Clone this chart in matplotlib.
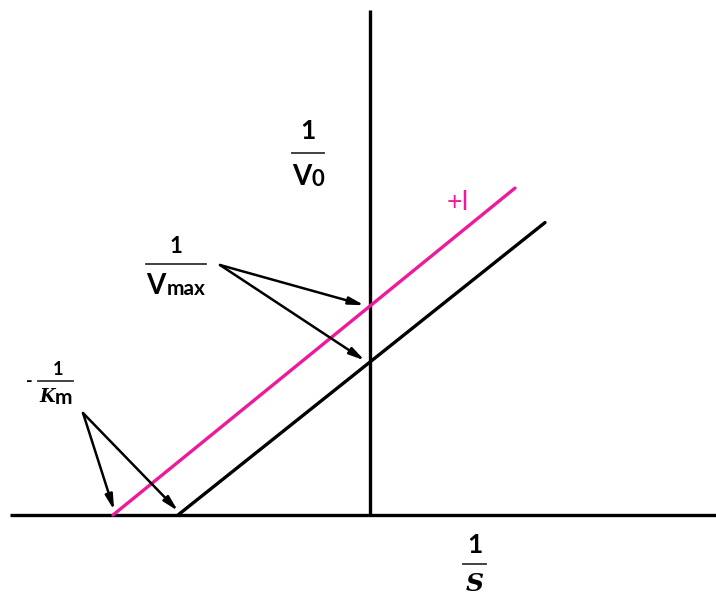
import matplotlib.pyplot as plt

# Lineweaver-Burk sketch: intercepts of the two lines (plot units)
lines = ["no inhibitor", "+I"]
x_intercepts = [-1.92, -2.57]      # -1/Km
y_intercepts = [1.53, 2.09]        # 1/Vmax
x_ends = [1.75, 1.45]              # where each line stops on the right
colors = ["black", "#ee1a9c"]

# axis extents
x_axis = [-3.60, 3.46]
y_axis = [0.0, 5.05]

fig = plt.figure(figsize=(7.16, 5.96), dpi=100)
ax = fig.add_axes([0, 0, 1, 1])
ax.set_xlim(-3.70, 3.46)
ax.set_ylim(-0.81, 5.15)
ax.axis("off")

# axes of the plot
ax.plot(x_axis, [0, 0], color="black", lw=2.4, solid_capstyle="butt")
ax.plot([0, 0], y_axis, color="black", lw=2.4, solid_capstyle="butt")

# the two lines
for x0, b, xe, c in zip(x_intercepts, y_intercepts, x_ends, colors):
    slope = b / -x0
    ax.plot([x0, xe], [0, b + slope * xe], color=c, lw=2.4, solid_capstyle="round")

bold = dict(family="Lato", fontweight="bold", color="black")


def frac_bar(x0, x1, y):
    ax.plot([x0, x1], [y, y], color="#333333", lw=1.3)


# 1/V0
ax.text(-0.62, 3.76, "1", fontsize=19, ha="center", va="baseline", **bold)
frac_bar(-0.78, -0.46, 3.62)
ax.text(-0.78, 3.30, "V", fontsize=20, ha="left", va="baseline", **bold)
ax.text(-0.59, 3.29, "0", fontsize=16, ha="left", va="baseline", **bold)

# 1/Vmax
ax.text(-1.94, 2.62, "1", fontsize=16, ha="center", va="baseline", **bold)
frac_bar(-2.24, -1.64, 2.51)
ax.text(-2.24, 2.21, "V", fontsize=20, ha="left", va="baseline", **bold)
ax.text(-2.03, 2.20, "max", fontsize=15, ha="left", va="baseline", **bold)

# -1/Km
ax.text(-3.41, 1.33, "-", fontsize=13, ha="center", va="center", **bold)
ax.text(-3.12, 1.40, "1", fontsize=13, ha="center", va="baseline", **bold)
frac_bar(-3.32, -2.97, 1.34)
ax.text(-3.31, 1.13, "K", fontsize=13, ha="left", va="baseline",
        family="DejaVu Serif", fontweight="bold", fontstyle="italic")
ax.text(-3.15, 1.11, "m", fontsize=15, ha="left", va="baseline", **bold)

# 1/S
ax.text(1.05, -0.38, "1", fontsize=19, ha="center", va="baseline", **bold)
frac_bar(0.93, 1.16, -0.49)
ax.text(1.05, -0.76, "S", fontsize=18, ha="center", va="baseline",
        family="DejaVu Serif", fontweight="bold", fontstyle="italic")

# +I label
ax.text(0.77, 3.05, "+I", fontsize=19, ha="left", va="baseline",
        family="Lato", color=colors[1])

arrow = dict(arrowstyle="-|>,head_length=0.9,head_width=0.22", color="black",
             lw=1.8, shrinkA=0, shrinkB=2)

# arrows from 1/Vmax label to the y-intercepts
for b in y_intercepts:
    ax.annotate("", xy=(-0.03, b), xytext=(-1.50, 2.50), arrowprops=arrow)

# arrows from -1/Km label to the x-intercepts
for x0 in x_intercepts:
    ax.annotate("", xy=(x0 + 0.02, 0.02), xytext=(-2.87, 1.02), arrowprops=arrow)

plt.savefig("out.png", dpi=100)
